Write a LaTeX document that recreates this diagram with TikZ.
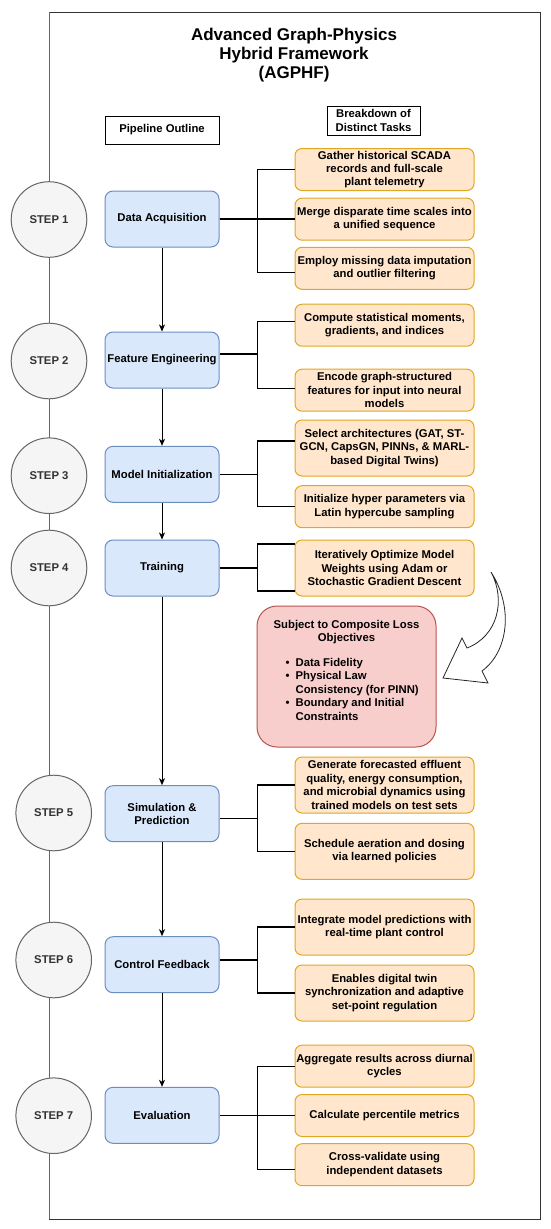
\documentclass[tikz,border=0pt]{standalone}
\usepackage{fontspec}
\setmainfont{Liberation Sans}
\usetikzlibrary{arrows.meta}
\definecolor{bluefill}{HTML}{DAE8FC}
\definecolor{bluestroke}{HTML}{6C8EBF}
\definecolor{orfill}{HTML}{FFE6CC}
\definecolor{orstroke}{HTML}{E0A820}
\definecolor{grfill}{HTML}{F5F5F5}
\definecolor{grstroke}{HTML}{666666}
\definecolor{grtext}{HTML}{333333}
\definecolor{redfill}{HTML}{F8CECC}
\definecolor{redstroke}{HTML}{B85450}
\definecolor{framecol}{HTML}{333333}
\begin{document}
\begin{tikzpicture}[x=1pt,y=-1pt,
  every node/.style={font=\bfseries\fontsize{11.3}{13.4}\selectfont, align=center, inner sep=0pt},
  bluebox/.style={draw=bluestroke, fill=bluefill, rounded corners=8pt, minimum width=114pt, minimum height=56pt, line width=1pt},
  orbox/.style={draw=orstroke, fill=orfill, rounded corners=7pt, minimum width=179pt, minimum height=42pt, line width=1pt},
  tallbox/.style={orbox, minimum height=56pt},
  stepcirc/.style={circle, draw=grstroke, fill=grfill, minimum size=75.6pt, text=grtext, line width=1pt},
  labelbox/.style={draw=black, fill=white, line width=1pt},
  conn/.style={draw=black, line width=1.4pt},
  flow/.style={draw=black, line width=1pt, -{Stealth[length=7pt,width=6pt,inset=2pt]}},
  titletext/.style={font=\bfseries\fontsize{17}{19}\selectfont}
]
\useasboundingbox (0,0) rectangle (550,1229);
\fill[white] (0,0) rectangle (550,1229);

% frame
\draw[framecol, line width=1pt] (49,12) rectangle (540,1219);
\draw[grstroke, line width=1pt] (49,12) -- (49,1219);

% title
\node[titletext] (title) at (294,55) {Advanced Graph-Physics\\Hybrid Framework\\(AGPHF)};

% header boxes
\node[labelbox, minimum width=114pt, minimum height=28pt] (pipe) at (162,130) {Pipeline Outline};
\node[labelbox, minimum width=93pt, minimum height=29pt] (tasks) at (373.5,120.5) {Breakdown of\\Distinct Tasks};

% step circles
\node[stepcirc] (s1) at (49,219.5) {STEP 1};
\node[stepcirc] (s2) at (49,361) {STEP 2};
\node[stepcirc] (s3) at (49,475.7) {STEP 3};
\node[stepcirc] (s4) at (49,568) {STEP 4};
\node[stepcirc] (s5) at (53.7,813) {STEP 5};
\node[stepcirc] (s6) at (53.7,960) {STEP 6};
\node[stepcirc] (s7) at (53.7,1115.7) {STEP 7};

% pipeline boxes
\node[bluebox] (b1) at (162,219) {Data Acquisition};
\node[bluebox] (b2) at (162,360) {Feature Engineering};
\node[bluebox] (b3) at (162,474.3) {Model Initialization};
\node[bluebox] (b4) at (162,568) {Training};
\node[bluebox] (b5) at (162,813.7) {Simulation \&\\Prediction};
\node[bluebox] (b6) at (162,964.7) {Control Feedback};
\node[bluebox] (b7) at (162,1115.3) {Evaluation};

% task boxes
\node[orbox] (o1a) at (384.5,169.5) {Gather historical SCADA\\records and full-scale\\plant telemetry};
\node[orbox] (o1b) at (384.5,219.2) {Merge disparate time scales into\\a unified sequence};
\node[orbox] (o1c) at (384.5,268.3) {Employ missing data imputation\\and outlier filtering};
\node[orbox] (o2a) at (384.5,325.2) {Compute statistical moments,\\gradients, and indices};
\node[orbox] (o2b) at (384.5,390.2) {Encode graph-structured\\features for input into neural\\models};
\node[tallbox] (o3a) at (384.5,448) {Select architectures (GAT, ST-\\GCN, CapsGN, PINNs, \& MARL-\\based Digital Twins)};
\node[orbox] (o3b) at (384.5,506.7) {Initialize hyper parameters via\\Latin hypercube sampling};
\node[tallbox] (o4) at (384.5,568) {Iteratively Optimize Model\\Weights using Adam or\\Stochastic Gradient Descent};
\node[tallbox] (o5a) at (384.5,785) {Generate forecasted effluent\\quality, energy consumption,\\and microbial dynamics using\\trained models on test sets};
\node[tallbox] (o5b) at (384.5,851.3) {Schedule aeration and dosing\\via learned policies};
\node[tallbox] (o6a) at (384.5,927) {Integrate model predictions with\\real-time plant control};
\node[tallbox] (o6b) at (384.5,993) {Enables digital twin\\synchronization and adaptive\\set-point regulation};
\node[orbox] (o7a) at (384.5,1066.2) {Aggregate results across diurnal\\cycles};
\node[orbox] (o7b) at (384.5,1115.5) {Calculate percentile metrics};
\node[orbox] (o7c) at (384.5,1164.7) {Cross-validate using\\independent datasets};

% loss box
\node[draw=redstroke, fill=redfill, rounded corners=20pt, line width=1pt, minimum width=179pt, minimum height=141pt] (loss) at (346.5,676.5) {%
\begin{tabular}{@{}p{12pt}@{}r@{\hspace{6pt}}l@{}}
\multicolumn{3}{@{}c@{}}{Subject to Composite Loss}\\
\multicolumn{3}{@{}c@{}}{Objectives}\\[11.5pt]
 & \textbullet & Data Fidelity\\
 & \textbullet & Physical Law\\
 & & Consistency (for PINN)\\
 & \textbullet & Boundary and Initial\\
 & & Constraints\\[10pt]
\end{tabular}};

% flow arrows
\draw[flow] (b1.south) -- (b2.north);
\draw[flow] (b2.south) -- (b3.north);
\draw[flow] (b3.south) -- (b4.north);
\draw[flow] (b4.south) -- (b5.north);
\draw[flow] (b5.south) -- (b6.north);
\draw[flow] (b6.south) -- (b7.north);

% task connectors
\draw[conn] (b1.east) -- ++(38,0) |- (o1a.west);
\draw[conn] (b1.east) -- (o1b.west |- b1.east);
\draw[conn] (b1.east) -- ++(38,0) |- ([yshift=-4pt]o1c.west);
\draw[conn] ([yshift=6pt]b2.east) -- ++(38,0) |- ([yshift=3.5pt]o2a.west);
\draw[conn] ([yshift=6pt]b2.east) -- ++(38,0) |- ([yshift=2pt]o2b.west);
\draw[conn] (b3.east) -- ++(38,0) |- ([yshift=7pt]o3a.west);
\draw[conn] (b3.east) -- ++(38,0) |- (o3b.west);
\draw[conn] (b4.east) -- ++(38,0) |- ([yshift=24pt]o4.west);
\draw[conn] (b4.east) -- ++(38,0) |- ([yshift=-23pt]o4.west);
\draw[conn] ([yshift=-4.5pt]b5.east) -- ++(38,0) |- (o5a.west);
\draw[conn] ([yshift=-4.5pt]b5.east) -- ++(38,0) |- (o5b.west);
\draw[conn] ([yshift=4.7pt]b6.east) -- ++(38,0) |- (o6a.west);
\draw[conn] ([yshift=4.7pt]b6.east) -- ++(38,0) |- (o6b.west);
\draw[conn] (b7.east) -- ++(38,0) |- (o7a.west);
\draw[conn] (b7.east) -- (o7b.west |- b7.east);
\draw[conn] (b7.east) -- ++(38,0) |- ([yshift=-4.5pt]o7c.west);

% curved block arrow
\draw[black!85, fill=white, line width=0.8pt, line join=miter]
  (491,572) .. controls (506,600) and (498,636) .. (467,648)
  -- (462,638) -- (443,678) -- (488,683) -- (482,671)
  .. controls (508,652) and (514,608) .. (491,572) -- cycle;
\end{tikzpicture}
\end{document}
